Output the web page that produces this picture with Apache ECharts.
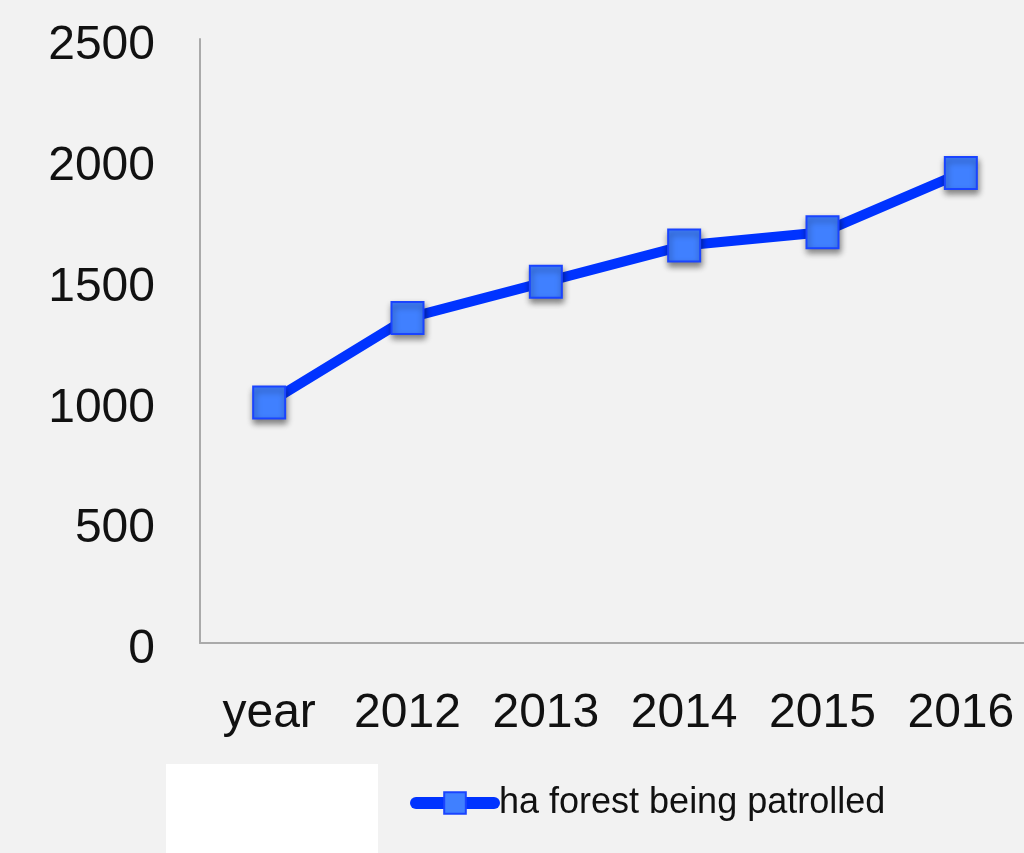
<!DOCTYPE html>
<html>
<head>
<meta charset="utf-8">
<script src="https://cdn.jsdelivr.net/npm/echarts@6/dist/echarts.min.js"></script>
<style>
html,body{margin:0;padding:0;background:#f2f2f2;overflow:hidden;}
#c{width:1030px;height:853px;}
</style>
</head>
<body>
<div id="c"></div>
<script>
const categories = ['year', '2012', '2013', '2014', '2015', '2016'];
const seriesName = 'ha forest being patrolled';
const values = [995, 1345, 1495, 1645, 1700, 1945];
const yTicks = { min: 0, max: 2500, interval: 500 };

const chart = echarts.init(document.getElementById('c'), null, { renderer: 'canvas' });
const font = 'Liberation Sans, Arial, sans-serif';
chart.setOption({
  backgroundColor: '#f2f2f2',
  animation: false,
  textStyle: { fontFamily: font },
  grid: [
    { left: 200, top: 39, right: 0, height: 604 },
    { left: 200, top: 46, right: 0, height: 604 }
  ],
  graphic: [{
    type: 'rect', left: 166, top: 764,
    shape: { width: 212, height: 89 },
    style: { fill: '#ffffff' }, z: 0
  }],
  legend: {
    left: 405, top: 780,
    itemWidth: 78, itemHeight: 27, itemGap: 0,
    lineStyle: { width: 12, cap: 'round' },
    textStyle: { fontSize: 36, color: '#111', fontFamily: font },
    data: [seriesName]
  },
  xAxis: [{
    type: 'category', data: categories, boundaryGap: true, gridIndex: 0,
    axisLine: { lineStyle: { color: '#aaaaaa', width: 2 } },
    axisTick: { show: false },
    axisLabel: { fontSize: 48, color: '#111', margin: 47, interval: 0 },
    splitLine: { show: false }
  }, {
    type: 'category', data: categories, gridIndex: 1, show: false
  }],
  yAxis: [{
    type: 'value', min: yTicks.min, max: yTicks.max, interval: yTicks.interval, gridIndex: 0,
    axisLine: { show: true, lineStyle: { color: '#aaaaaa', width: 2 } },
    axisTick: { show: false },
    axisLabel: { show: false },
    splitLine: { show: false }
  }, {
    type: 'value', min: yTicks.min, max: yTicks.max, interval: yTicks.interval, gridIndex: 1,
    axisLine: { show: false },
    axisTick: { show: false },
    axisLabel: { fontSize: 48, color: '#111', margin: 45, formatter: v => String(v) },
    splitLine: { show: false }
  }],
  series: [{
    name: seriesName, type: 'line', data: values, xAxisIndex: 0, yAxisIndex: 0,
    symbol: 'rect', symbolSize: 32,
    lineStyle: { color: '#0033ff', width: 10 },
    itemStyle: {
      color: '#4080ff', borderColor: '#1a44ff', borderWidth: 2,
      shadowColor: 'rgba(0,0,0,0.45)', shadowBlur: 6, shadowOffsetX: 1, shadowOffsetY: 4
    }
  }]
});
</script>
</body>
</html>
